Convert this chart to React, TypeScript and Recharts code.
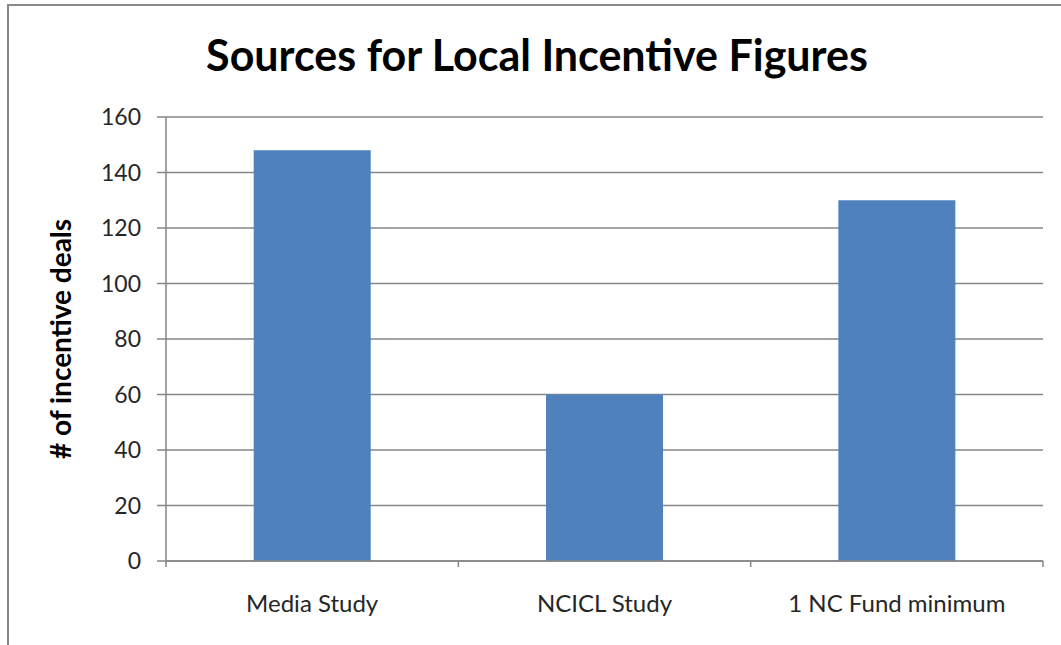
import React from 'react';
import { BarChart, Bar, XAxis, YAxis, CartesianGrid } from 'recharts';

const categories = ['Media Study', 'NCICL Study', '1 NC Fund minimum'];
const dealCounts = [148, 60, 130];
const yTicks = [0, 20, 40, 60, 80, 100, 120, 140, 160];

const data = categories.map((name, i) => ({ name, deals: dealCounts[i] }));

const W = 1061;
const H = 645;
const MARGIN = { top: 117, right: 18, bottom: 0, left: 0 };
const Y_AXIS_W = 166;
const X_AXIS_H = 84;
const PLOT_W = W - MARGIN.left - MARGIN.right - Y_AXIS_W;
const BAND = PLOT_W / categories.length;
const X_TICK_MARGIN = 34;
const AXIS_COLOR = '#868686';
const FONT = 'Lato, "Open Sans", sans-serif';

const XTick = (props: any) => {
  const { x, y, payload, index } = props;
  const axisY = y - X_TICK_MARGIN;
  return (
    <g>
      <line x1={x - BAND / 2} x2={x - BAND / 2} y1={axisY} y2={axisY + 6} stroke={AXIS_COLOR} strokeWidth={1.5} />
      {index === categories.length - 1 && (
        <line x1={x + BAND / 2} x2={x + BAND / 2} y1={axisY} y2={axisY + 6} stroke={AXIS_COLOR} strokeWidth={1.5} />
      )}
      <text x={x} y={y} dy="0.71em" textAnchor="middle" fill="#262626" fontSize={24} fontFamily={FONT}>
        {payload.value}
      </text>
    </g>
  );
};

export default function App() {
  return (
    <div style={{ position: 'absolute', left: 0, top: 0, width: W, height: H, background: '#fff', overflow: 'hidden' }}>
      <div
        style={{
          position: 'absolute',
          left: 7,
          top: 4,
          width: W + 20,
          height: H + 20,
          border: '2px solid #888888',
          boxSizing: 'border-box',
        }}
      />
      <div
        style={{
          position: 'absolute',
          left: 0,
          top: 28,
          width: 1074,
          textAlign: 'center',
          fontFamily: FONT,
          fontWeight: 700,
          fontSize: 43,
          color: '#000',
          lineHeight: '54px',
        }}
      >
        Sources for Local Incentive Figures
      </div>
      <div style={{ position: 'absolute', left: 0, top: 0 }}>
        <BarChart width={W} height={H} data={data} margin={MARGIN} barCategoryGap="30%">
          <CartesianGrid vertical={false} stroke={AXIS_COLOR} strokeWidth={1.5} />
          <XAxis
            dataKey="name"
            height={X_AXIS_H}
            axisLine={{ stroke: AXIS_COLOR, strokeWidth: 1.5 }}
            tickLine={false}
            tickSize={0}
            tickMargin={X_TICK_MARGIN}
            tick={<XTick />}
            interval={0}
          />
          <YAxis
            width={Y_AXIS_W}
            domain={[0, 160]}
            ticks={yTicks}
            interval={0}
            axisLine={{ stroke: AXIS_COLOR, strokeWidth: 1.5 }}
            tickLine={{ stroke: AXIS_COLOR, strokeWidth: 1.5 }}
            tickSize={9}
            tickMargin={16}
            tick={{ fill: '#262626', fontSize: 23, fontFamily: FONT }}
            label={{
              value: '# of incentive deals',
              angle: -90,
              position: 'insideLeft',
              offset: 61,
              style: { textAnchor: 'middle', fontFamily: FONT, fontWeight: 700, fontSize: 28, fill: '#000' },
            }}
          />
          <Bar dataKey="deals" fill="#4F81BD" isAnimationActive={false} />
        </BarChart>
      </div>
    </div>
  );
}
